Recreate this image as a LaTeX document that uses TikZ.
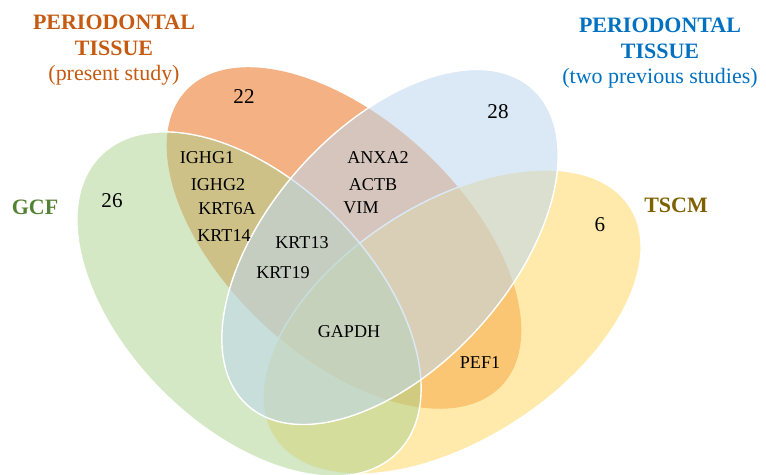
\documentclass[tikz,border=0pt]{standalone}
\usepackage{fontspec}
\setmainfont{Liberation Serif}
\usetikzlibrary{positioning}
\definecolor{vennorange}{RGB}{244,177,131}
\definecolor{vennyellow}{RGB}{255,217,102}
\definecolor{venngreen}{RGB}{169,209,142}
\definecolor{vennblue}{RGB}{189,215,238}
\definecolor{titleorange}{RGB}{197,90,17}
\definecolor{titleblue}{RGB}{0,112,192}
\definecolor{titlegreen}{RGB}{84,130,53}
\definecolor{titlegold}{RGB}{127,96,0}

\begin{document}
\begin{tikzpicture}[x=0.02cm, y=-0.02cm,
        set shape/.style={draw=white, line width=0.8pt},
        title node/.style={font=\fontsize{12.5}{14.5}\selectfont\bfseries, align=center, inner sep=0pt},
        count node/.style={font=\fontsize{12}{14}\selectfont, inner sep=0pt},
        gene node/.style={font=\fontsize{10.3}{12}\selectfont, inner sep=0pt}]

    \useasboundingbox (0,0) rectangle (766,475);

            % The four sets, drawn back to front
            \fill[vennorange, rotate around={-43:(344,238)}] (344,238) ellipse [x radius=216, y radius=118];
            \filldraw[set shape, fill=vennyellow, fill opacity=0.55, rotate around={33:(452,322)}] (452,322) ellipse [x radius=212, y radius=118];
            \filldraw[set shape, fill=venngreen, fill opacity=0.5, rotate around={-45:(249,304)}] (249,304) ellipse [x radius=210, y radius=123];
            \filldraw[set shape, fill=vennblue, fill opacity=0.55, rotate around={48:(390,247)}] (390,247) ellipse [x radius=213, y radius=120];

            % Set names
            \node[title node, text=titleorange] (presenttitle) at (114,50.5) {PERIODONTAL\\TISSUE\\\mdseries(present study)};
            \node[title node, text=titleblue] (previoustitle) at (660,53.5) {PERIODONTAL\\TISSUE\\\mdseries(two previous studies)};
            \node[title node, text=titlegreen] (gcftitle) at (35,207) {GCF};
            \node[title node, text=titlegold] (tscmtitle) at (676,205) {TSCM};

            % Counts of the single sets
            \node[count node] (presentcount) at (244,97) {22};
            \node[count node] (previouscount) at (498,112) {28};
            \node[count node] (gcfcount) at (112,201) {26};
            \node[count node] (tscmcount) at (600,225) {6};

            % Shared proteins
            \node[gene node] (ighga) at (207,158) {IGHG1};
            \node[gene node] (ighgb) at (218,185) {IGHG2};
            \node[gene node] (krtsixa) at (227,209) {KRT6A};
            \node[gene node] (krtfourteen) at (224,236) {KRT14};
            \node[gene node] (anxa) at (378,158) {ANXA2};
            \node[gene node] (actb) at (373,185) {ACTB};
            \node[gene node] (vim) at (361,208) {VIM};
            \node[gene node] (krtthirteen) at (302,243) {KRT13};
            \node[gene node] (krtnineteen) at (283,273) {KRT19};
            \node[gene node] (gapdh) at (349,332) {GAPDH};
            \node[gene node] (pef) at (480,363) {PEF1};

    \end{tikzpicture}
\end{document}
